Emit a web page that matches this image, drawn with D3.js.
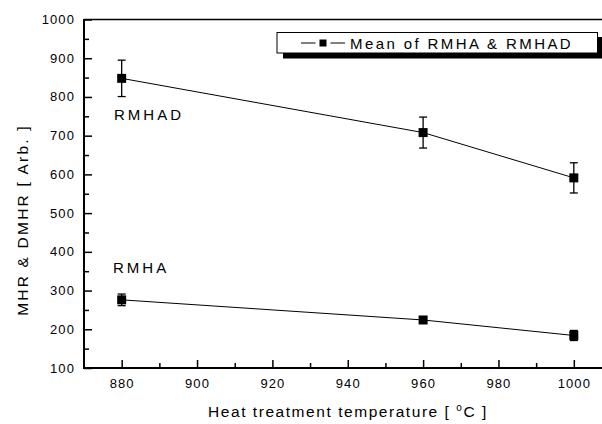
<!DOCTYPE html>
<html><head><meta charset="utf-8">
<script src="https://cdn.jsdelivr.net/npm/d3@7"></script>
<style>body{margin:0;background:#fff}svg{display:block;font-family:"Liberation Sans",Arial,sans-serif}</style>
</head><body><div id="c"></div>
<script>
const temps = [880, 960, 1000];
const rmhad = [848, 708, 591];
const rmhadErr = [47, 40, 39];
const rmha = [276, 224, 184];
const rmhaErr = [15, 5, 13];
const xTicks = [880, 900, 920, 940, 960, 980, 1000];
const yTicks = [100, 200, 300, 400, 500, 600, 700, 800, 900, 1000];
const legendLabel = "Mean of RMHA & RMHAD";

const W = 602, H = 424;
const svg = d3.select("#c").append("svg").attr("width", W).attr("height", H);
const x = d3.scaleLinear().domain([870, 1010]).range([84, 611.5]);
const y = d3.scaleLinear().domain([100, 1000]).range([368, 19.5]);

// frame top line
svg.append("line").attr("x1", 84).attr("x2", W).attr("y1", y(1000)).attr("y2", y(1000))
  .attr("stroke", "#000").attr("stroke-width", 1.5);

// y axis
const gy = svg.append("g").attr("transform", "translate(84,0)");
gy.call(d3.axisRight(y).tickValues(d3.range(150, 1000, 100)).tickSize(5).tickFormat(""));
gy.select(".domain").remove();
const gy2 = svg.append("g").attr("transform", "translate(84,0)");
gy2.call(d3.axisRight(y).tickValues(yTicks).tickSize(8).tickFormat(""));
gy2.select(".domain").remove();
svg.append("line").attr("x1", 84).attr("x2", 84).attr("y1", y(1000)-0.5).attr("y2", y(100)+1)
  .attr("stroke", "#000").attr("stroke-width", 2);
svg.append("g").selectAll("text").data(yTicks).join("text")
  .attr("x", 75).attr("y", d => y(d) + 4.5).attr("text-anchor", "end")
  .attr("font-size", 13).attr("letter-spacing", 1.1).text(d => d);

// x axis
const gx = svg.append("g").attr("transform", `translate(0,${y(100)})`);
gx.call(d3.axisTop(x).tickValues(d3.range(890, 1010, 20)).tickSize(5).tickFormat(""));
gx.select(".domain").remove();
const gx2 = svg.append("g").attr("transform", `translate(0,${y(100)})`);
gx2.call(d3.axisTop(x).tickValues(xTicks).tickSize(8).tickFormat(""));
gx2.select(".domain").remove();
svg.selectAll(".tick line").attr("stroke-width", 1.5);
svg.append("line").attr("x1", 83).attr("x2", W).attr("y1", y(100)).attr("y2", y(100))
  .attr("stroke", "#000").attr("stroke-width", 2);
svg.append("g").selectAll("text").data(xTicks).join("text")
  .attr("x", d => x(d) + 0.5).attr("y", 387.5).attr("text-anchor", "middle")
  .attr("font-size", 13).attr("letter-spacing", 1.1).text(d => d);

// axis titles
const xt = svg.append("text").attr("x", 348).attr("y", 416.5).attr("text-anchor", "middle")
  .attr("font-size", 15.5).attr("letter-spacing", 1.55);
xt.append("tspan").text("Heat treatment temperature [ ");
xt.append("tspan").attr("dy", -6).attr("font-size", 10).text("o");
xt.append("tspan").attr("dy", 6).text("C ]");

svg.append("text").attr("transform", "translate(28,220) rotate(-90)").attr("text-anchor", "middle")
  .attr("font-size", 15.5).attr("letter-spacing", 2.2).text("MHR & DMHR [ Arb. ]");

// series
function drawSeries(vals, errs) {
  const pts = temps.map((t, i) => ({t, v: vals[i], e: errs[i]}));
  svg.append("path").datum(pts)
    .attr("d", d3.line().x(d => x(d.t)).y(d => y(d.v)))
    .attr("fill", "none").attr("stroke", "#000").attr("stroke-width", 1);
  const eb = svg.append("g").selectAll("g").data(pts).join("g");
  eb.append("line").attr("x1", d => x(d.t)).attr("x2", d => x(d.t))
    .attr("y1", d => y(d.v + d.e)).attr("y2", d => y(d.v - d.e)).attr("stroke", "#000").attr("stroke-width", 1.3);
  eb.append("line").attr("x1", d => x(d.t) - 4).attr("x2", d => x(d.t) + 4)
    .attr("y1", d => y(d.v + d.e)).attr("y2", d => y(d.v + d.e)).attr("stroke", "#000").attr("stroke-width", 1.3);
  eb.append("line").attr("x1", d => x(d.t) - 4).attr("x2", d => x(d.t) + 4)
    .attr("y1", d => y(d.v - d.e)).attr("y2", d => y(d.v - d.e)).attr("stroke", "#000").attr("stroke-width", 1.3);
  svg.append("g").selectAll("rect").data(pts).join("rect")
    .attr("x", d => x(d.t) - 4.5).attr("y", d => y(d.v) - 4.5).attr("width", 9).attr("height", 9).attr("fill", "#000");
}
drawSeries(rmhad, rmhadErr);
drawSeries(rmha, rmhaErr);

svg.append("text").attr("x", 114).attr("y", 119.5).attr("font-size", 15).attr("letter-spacing", 3).text("RMHAD");
svg.append("text").attr("x", 113).attr("y", 273).attr("font-size", 15).attr("letter-spacing", 3).text("RMHA");

// legend
svg.append("rect").attr("x", 283).attr("y", 37).attr("width", 319).attr("height", 21.5).attr("fill", "#000");
svg.append("rect").attr("x", 277).attr("y", 32.5).attr("width", 320.5).attr("height", 20.5)
  .attr("fill", "#fff").attr("stroke", "#000").attr("stroke-width", 1);
svg.append("line").attr("x1", 301).attr("x2", 315.5).attr("y1", 43).attr("y2", 43).attr("stroke", "#000").attr("stroke-width", 1);
svg.append("line").attr("x1", 330.5).attr("x2", 345).attr("y1", 43).attr("y2", 43).attr("stroke", "#000").attr("stroke-width", 1);
svg.append("rect").attr("x", 319.5).attr("y", 39.5).attr("width", 7).attr("height", 7).attr("fill", "#000");
svg.append("text").attr("x", 350).attr("y", 48.5).attr("font-size", 15).attr("letter-spacing", 2.4).text(legendLabel);
</script></body></html>
